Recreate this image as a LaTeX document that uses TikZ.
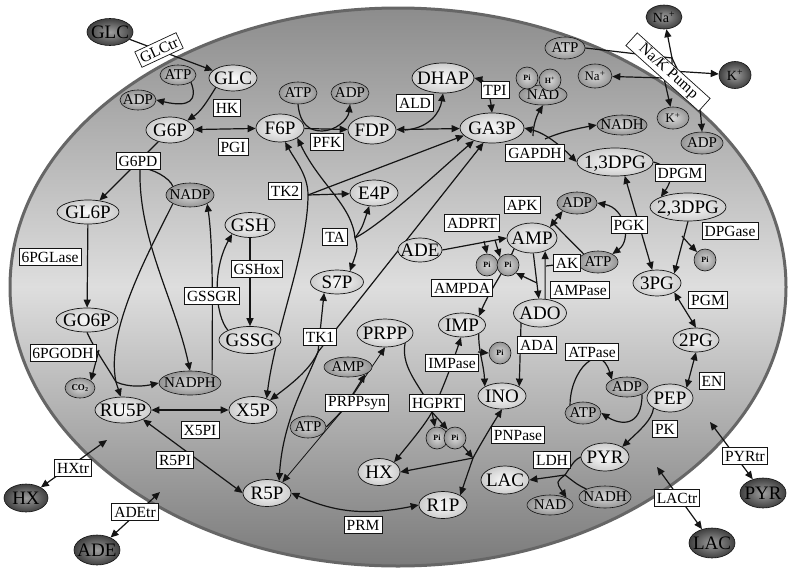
\documentclass[tikz,border=0pt]{standalone}
\usepackage{fontspec}
\setmainfont{Liberation Serif}
\usetikzlibrary{arrows.meta,shapes.geometric,calc}
\pgfdeclarelayer{bg}
\pgfdeclarelayer{edges}
\pgfsetlayers{bg,edges,main}
\definecolor{bgTop}{gray}{0.55}
\definecolor{bgMid}{gray}{0.87}
\definecolor{bgBot}{gray}{0.48}
\definecolor{rim}{gray}{0.40}
\definecolor{metIn}{gray}{0.99}
\definecolor{metOut}{gray}{0.80}
\definecolor{cofIn}{gray}{0.85}
\definecolor{cofOut}{gray}{0.58}
\definecolor{extIn}{gray}{0.62}
\definecolor{extOut}{gray}{0.25}
\definecolor{ink}{gray}{0.08}
\tikzset{
  fixtext/.style={execute at begin node={\setbox0=\hbox\bgroup},
    execute at end node={\egroup\makebox[0pt]{\smash{\raisebox{-0.5\height}{\box0}}}}},
  sz/.style 2 args={minimum width=#1pt, minimum height=#2pt},
  met/.style={ellipse, fixtext, inner sep=0pt, draw=ink, line width=0.7pt,
    inner color=metIn, outer color=metOut, font=\fontsize{19}{19}\selectfont},
  cof/.style={ellipse, fixtext, inner sep=0pt, draw=ink, line width=0.6pt,
    inner color=cofIn, outer color=cofOut, font=\fontsize{15}{15}\selectfont},
  ext/.style={ellipse, fixtext, inner sep=0pt, draw=ink, line width=0.6pt,
    inner color=extIn, outer color=extOut, font=\fontsize{19}{19}\selectfont},
  pib/.style={circle, fixtext, inner sep=0pt, minimum size=22pt, draw=ink, line width=0.6pt,
    inner color=cofIn, outer color=cofOut, font=\fontsize{8}{8}\selectfont\bfseries},
  enz/.style={rectangle, fill=white, draw=ink, line width=0.7pt, inner xsep=2.5pt,
    inner ysep=0pt, minimum height=17pt, font=\fontsize{15.5}{15.5}\selectfont},
  link/.style={line width=1.2pt, draw=ink},
  arr/.style={link, -{Triangle[length=8pt,width=7pt]}},
  darr/.style={link, {Triangle[length=8pt,width=7pt]}-{Triangle[length=8pt,width=7pt]}},
}
\begin{document}
\begin{tikzpicture}[x=1pt,y=-1pt]
\useasboundingbox (0,0) rectangle (790,571);

% cell body
\begin{pgfonlayer}{bg}
\fill[white] (0,0) rectangle (790,571);
\shade[top color=bgTop, bottom color=bgBot, middle color=bgMid]
  (398,287) ellipse [x radius=388pt, y radius=279pt];
\draw[rim, line width=3pt] (398,287) ellipse [x radius=388pt, y radius=279pt];
\end{pgfonlayer}

% outside species
\node[ext, sz={46}{27}] (glcx) at (110,32) {GLC};
\node[ext, sz={36}{24}, font=\fontsize{14}{14}\selectfont] (nax) at (664,17) {Na\textsuperscript{+}};
\node[ext, sz={32}{27}, font=\fontsize{14}{14}\selectfont] (kx) at (735,75) {K\textsuperscript{+}};
\node[ext, sz={44}{28}] (hxx) at (26,498) {HX};
\node[ext, sz={46}{30}] (adex) at (97,550) {ADE};
\node[ext, sz={46}{30}] (pyrx) at (763,493) {PYR};
\node[ext, sz={46}{30}] (lacx) at (712,543) {LAC};

% metabolites
\node[met, sz={48}{26}] (glc) at (233,78) {GLC};
\node[met, sz={48}{26}] (g6p) at (170,130) {G6P};
\node[met, sz={48}{28}] (f6p) at (280,128) {F6P};
\node[met, sz={48}{28}] (fdp) at (372,130) {FDP};
\node[met, sz={62}{30}] (dhap) at (443,78) {DHAP};
\node[met, sz={64}{30}] (ga3p) at (492,128) {GA3P};
\node[met, sz={76}{28}] (dpg13) at (615,162) {1,3DPG};
\node[met, sz={76}{28}] (dpg23) at (688,207) {2,3DPG};
\node[met, sz={48}{26}] (pg3) at (657,283) {3PG};
\node[met, sz={46}{24}] (pg2) at (696,340) {2PG};
\node[met, sz={46}{28}] (pep) at (670,398) {PEP};
\node[met, sz={48}{28}] (pyr) at (605,457) {PYR};
\node[met, sz={48}{28}] (lac) at (505,480) {LAC};
\node[met, sz={62}{24}] (gl6p) at (88,212) {GL6P};
\node[met, sz={62}{24}] (go6p) at (87,320) {GO6P};
\node[met, sz={56}{26}] (ru5p) at (123,410) {RU5P};
\node[met, sz={48}{27}] (x5p) at (253,410) {X5P};
\node[met, sz={48}{27}] (r5p) at (267,493) {R5P};
\node[met, sz={48}{27}] (r1p) at (443,505) {R1P};
\node[met, sz={42}{27}] (hx) at (379,472) {HX};
\node[met, sz={48}{26}] (ino) at (502,396) {INO};
\node[met, sz={47}{24}] (imp) at (462,325) {IMP};
\node[met, sz={53}{28}] (ado) at (540,313) {ADO};
\node[met, sz={50}{30}] (amp) at (532,238) {AMP};
\node[met, sz={44}{24}] (ade) at (420,250) {ADE};
\node[met, sz={56}{28}] (prpp) at (385,333) {PRPP};
\node[met, sz={53}{24}] (s7p) at (337,282) {S7P};
\node[met, sz={48}{26}] (e4p) at (374,193) {E4P};
\node[met, sz={50}{25}] (gsh) at (250,225) {GSH};
\node[met, sz={62}{27}] (gssg) at (250,340) {GSSG};

% cofactors
\node[cof, sz={36}{20}] (atp1) at (178,75) {ATP};
\node[cof, sz={36}{20}] (adp1) at (138,100) {ADP};
\node[cof, sz={48}{24}] (nadp) at (190,195) {NADP};
\node[cof, sz={62}{24}] (nadph) at (190,383) {NADPH};
\node[cof, sz={30}{20}, font=\fontsize{9}{9}\selectfont\bfseries] (co2) at (80,388) {CO\textsubscript{2}};
\node[cof, sz={38}{22}] (atp2) at (298,93) {ATP};
\node[cof, sz={38}{22}] (adp2) at (350,93) {ADP};
\node[cof, sz={40}{22}] (atp3) at (565,48) {ATP};
\node[cof, sz={34}{24}, font=\fontsize{13}{13}\selectfont] (nain) at (595,76) {Na\textsuperscript{+}};
\node[cof, sz={32}{22}, font=\fontsize{13}{13}\selectfont] (kin) at (673,118) {K\textsuperscript{+}};
\node[cof, sz={42}{22}] (adp3) at (702,143) {ADP};
\node[cof, sz={48}{20}] (nad1) at (543,95) {NAD};
\node[pib] (pi1) at (527,78) {Pi};
\node[pib] (hplus) at (550,80) {H\textsuperscript{+}};
\node[cof, sz={50}{20}] (nadh1) at (622,125) {NADH};
\node[cof, sz={40}{22}] (adp4) at (577,203) {ADP};
\node[cof, sz={40}{22}] (atp4) at (598,262) {ATP};
\node[pib] (pi2) at (705,260) {Pi};
\node[pib] (pi3) at (487,265) {Pi};
\node[pib] (pi4) at (508,265) {Pi};
\node[pib] (pi5) at (500,353) {Pi};
\node[cof, sz={48}{20}] (amp2) at (348,367) {AMP};
\node[cof, sz={36}{22}] (atp5) at (308,427) {ATP};
\node[pib] (pi6) at (437,438) {Pi};
\node[pib] (pi7) at (455,438) {Pi};
\node[cof, sz={42}{20}] (adp5) at (627,387) {ADP};
\node[cof, sz={36}{22}] (atp6) at (583,413) {ATP};
\node[cof, sz={46}{20}] (nad2) at (550,505) {NAD};
\node[cof, sz={52}{22}] (nadh2) at (605,497) {NADH};

% enzymes and transporters
\node[enz, rotate=25] (glctr) at (159,50) {GLCtr};
\node[enz] (hk) at (227,108) {HK};
\node[enz] (pgi) at (233,147) {PGI};
\node[enz] (pfk) at (327,142) {PFK};
\node[enz] (ald) at (415,103) {ALD};
\node[enz] (tpi) at (495,90) {TPI};
\node[enz] (gapdh) at (535,153) {GAPDH};
\node[enz, rotate=-42, minimum width=98pt] (nakp) at (668,72) {Na/K Pump};
\node[enz] (dpgm) at (680,173) {DPGM};
\node[enz] (g6pd) at (138,161) {G6PD};
\node[enz] (pglase) at (50,257) {6PGLase};
\node[enz] (pgodh) at (63,353) {6PGODH};
\node[enz] (tk2) at (285,191) {TK2};
\node[enz] (ta) at (335,237) {TA};
\node[enz] (tk1) at (320,337) {TK1};
\node[enz] (gshox) at (257,269) {GSHox};
\node[enz] (gssgr) at (212,296) {GSSGR};
\node[enz] (x5pi) at (200,430) {X5PI};
\node[enz] (r5pi) at (175,460) {R5PI};
\node[enz] (hxtr) at (73,468) {HXtr};
\node[enz] (adetr) at (135,512) {ADEtr};
\node[enz] (prppsyn) at (357,403) {PRPPsyn};
\node[enz] (prm) at (363,525) {PRM};
\node[enz] (hgprt) at (437,403) {HGPRT};
\node[enz] (pnpase) at (518,435) {PNPase};
\node[enz] (ldh) at (552,460) {LDH};
\node[enz] (impase) at (452,363) {IMPase};
\node[enz] (ada) at (537,345) {ADA};
\node[enz] (ampda) at (462,288) {AMPDA};
\node[enz] (adprt) at (472,223) {ADPRT};
\node[enz] (apk) at (522,205) {APK};
\node[enz] (ak) at (567,263) {AK};
\node[enz] (ampase) at (580,290) {AMPase};
\node[enz] (pgk) at (629,225) {PGK};
\node[enz] (dpgase) at (730,231) {DPGase};
\node[enz] (pgm) at (708,300) {PGM};
\node[enz] (en) at (712,381) {EN};
\node[enz] (atpase) at (592,352) {ATPase};
\node[enz] (pk) at (665,429) {PK};
\node[enz] (pyrtr) at (745,456) {PYRtr};
\node[enz] (lactr) at (677,498) {LACtr};

% junction points and free ends
\coordinate (hxin) at (107,440);
\coordinate (adein) at (160,492);
\coordinate (pyrin) at (710,422);
\coordinate (lacin) at (657,467);
\coordinate (pumpa) at (672,58);
\coordinate (pumpk) at (672,71);
\coordinate (pumpb) at (664,78);
\coordinate (pumpc) at (688,92);
\coordinate (jg6pd) at (140,168);
\coordinate (jpgodh) at (116,382);
\coordinate (jtk2) at (308,195);
\coordinate (jta) at (355,238);
\coordinate (jtk1) at (318,352);
\coordinate (jprs) at (343,410);
\coordinate (jhg) at (432,412);
\coordinate (jpnp) at (473,458);
\coordinate (jldh) at (565,475);
\coordinate (jdpgase) at (682,236);

\begin{pgfonlayer}{edges}
% transport across the membrane
\draw[arr] (glcx) -- (glc);
\draw[darr] (hxx) -- (hxin);
\draw[darr] (adex) -- (adein);
\draw[darr] (pyrx) -- (pyrin);
\draw[darr] (lacx) -- (lacin);
% Na/K pump
\draw[link] (atp3.east) -- (pumpa) -- (pumpk) -- (pumpb);
\draw[link] (pumpa) -- (pumpc);
\draw[arr] (pumpa) -- (nax);
\draw[arr] (pumpk) -- (kx);
\draw[arr] (pumpb) -- (nain);
\draw[arr] (pumpb) -- (kin);
\draw[arr] (pumpc) .. controls (700,105) .. (adp3.north);
% glycolysis
\draw[arr] (glc.south west) .. controls (205,105) and (200,112) .. (g6p.north east);
\draw[arr] (atp1.south east) .. controls (198,100) and (190,108) .. (adp1.east);
\draw[darr] (g6p) -- (f6p);
\draw[arr] (f6p) -- (fdp);
\draw[arr] (atp2.south) .. controls (300,125) and (310,131) .. (322,131)
  .. controls (335,131) and (348,120) .. (adp2.south);
\draw[darr] (fdp) -- (ga3p);
\draw[arr] (405,130) .. controls (430,128) and (440,112) .. (dhap.south);
\draw[darr] (dhap.east) .. controls (483,80) and (490,95) .. (ga3p.north);
\draw[darr] (ga3p.east) .. controls (545,133) and (560,145) .. (dpg13.west);
\draw[arr] (533,136) .. controls (533,125) and (537,115) .. (nad1.south);
\draw[arr] (545,139) .. controls (560,132) and (580,128) .. (nadh1.west);
\draw[arr] (dpg13.east) .. controls (668,166) and (676,175) .. (dpg23.north west);
\draw[darr] (dpg13.305) -- (pg3.110);
\draw[darr] (adp4.east) .. controls (625,208) and (632,240) .. (atp4.north east);
\draw[arr] (dpg23.south) -- (pg3.north east);
\draw[arr] (jdpgase) .. controls (688,243) .. (pi2);
\draw[darr] (pg3.south east) -- (pg2.north);
\draw[darr] (pg2.south) -- (pep.north east);
\draw[arr] (pep.south west) .. controls (652,420) and (640,430) .. (pyr.north east);
\draw[arr] (adp5.south east) .. controls (642,428) and (620,425) .. (atp6.east);
\draw[arr] (atp6.north west) .. controls (570,370) and (600,340) .. (adp5.north west);
\draw[link] (pyr.west) .. controls (575,460) .. (jldh);
\draw[link] (nadh2.north west) .. controls (578,485) .. (jldh);
\draw[arr] (jldh) -- (lac.east);
\draw[arr] (jldh) .. controls (556,482) .. (nad2.north east);
% pentose phosphate pathway
\draw[arr] (g6p) -- (gl6p);
\draw[link] (nadp.north west) .. controls (170,178) and (152,168) .. (jg6pd);
\draw[arr] (jg6pd) .. controls (138,240) and (175,300) .. (nadph.north);
\draw[arr] (gl6p) -- (go6p);
\draw[link] (go6p.south) .. controls (95,350) and (108,368) .. (jpgodh);
\draw[arr] (99,350) -- (co2.north east);
\draw[arr] (jpgodh) -- (ru5p.100);
\draw[link] (nadp.south west) .. controls (150,250) and (105,330) .. (jpgodh);
\draw[arr] (jpgodh) .. controls (130,388) and (145,386) .. (nadph.west);
\draw[arr] (gsh) -- (gssg);
\draw[arr] (gssg.north west) .. controls (215,315) and (212,270) .. (gsh.south west);
\draw[arr] (nadph.north east) .. controls (212,330) and (214,250) .. (nadp.south east);
\draw[darr] (ru5p) -- (x5p);
\draw[darr] (ru5p.south east) -- (r5p.west);
\draw[darr] (x5p.40) .. controls (275,330) and (308,250) .. (jtk2)
  .. controls (308,175) and (295,160) .. (f6p.290);
\draw[arr] (jtk2) -- (e4p);
\draw[arr] (jtk2) -- (ga3p.195);
\draw[darr] (f6p.330) .. controls (320,185) and (352,205) .. (jta)
  .. controls (358,248) .. (s7p.40);
\draw[arr] (jta) .. controls (362,228) .. (e4p.250);
\draw[arr] (jta) .. controls (385,222) and (440,170) .. (ga3p.215);
\draw[arr] (jtk1) -- (s7p.220);
\draw[arr] (jtk1) -- (ga3p.240);
\draw[arr] (jtk1) .. controls (310,370) and (290,385) .. (x5p.30);
\draw[arr] (jtk1) .. controls (305,385) and (283,420) .. (r5p.45);
% purine salvage
\draw[darr, line width=0.8pt] (r5p.35) -- (jprs) -- (prpp.south);
\draw[link] (atp5.east) -- (jprs);
\draw[arr] (jprs) -- (amp2.south east);
\draw[darr] (r5p.east) .. controls (330,510) and (360,517) .. (r1p.west);
\draw[darr] (hx.north east) .. controls (408,445) and (425,425) .. (jhg)
  .. controls (440,395) and (452,365) .. (imp.265);
\draw[link] (prpp.south east) .. controls (400,370) and (425,390) .. (jhg);
\draw[arr] (jhg) -- (pi6);
\draw[arr] (jhg) -- (pi7);
\draw[arr] (jpnp) .. controls (480,445) and (492,425) .. (ino.south);
\draw[arr] (jpnp) -- (hx.east);
\draw[arr] (jpnp) -- (r1p.north east);
\draw[arr] (pi7.south east) -- (jpnp);
\draw[arr] (ade.east) -- (amp.west);
\draw[arr] (484,241) -- (pi3.north);
\draw[arr] (495,240) -- (pi4.north west);
\draw[arr] (amp.south west) .. controls (505,270) and (490,290) .. (imp.north east);
\draw[arr] (amp.275) -- (ado.95);
\draw[arr] (ado.70) -- (amp.315);
\draw[link] (atp4.west) -- (546,266);
\draw[arr] (537,283) -- (pi4.south east);
\draw[darr] (amp.north east) -- (adp4.south west);
\draw[link] (atp4.north west) -- (552,222);
\draw[arr] (ado.south west) -- (ino.north east);
\draw[arr] (imp.south east) .. controls (478,350) and (484,365) .. (ino.north west);
\draw[arr] (478,352) -- (pi5.west);
\end{pgfonlayer}
\end{tikzpicture}
\end{document}
